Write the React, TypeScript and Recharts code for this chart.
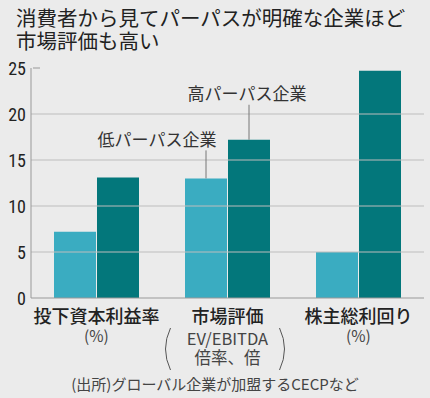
import React from 'react';
import { BarChart, Bar, XAxis, YAxis, ReferenceLine, LabelList } from 'recharts';

const categories = ['投下資本利益率', '市場評価', '株主総利回り'];
const unitLines = [['(%)'], ['EV/EBITDA', '倍率、倍'], ['(%)']];
const lowPurpose = [7.2, 13.0, 5.0];
const highPurpose = [13.1, 17.2, 24.7];
const seriesNames = ['低パーパス企業', '高パーパス企業'];
const yTicks = [0, 5, 10, 15, 20, 25];
const gridValues = [5, 10, 15, 20];
const titleLines = ['消費者から見てパーパスが明確な企業ほど', '市場評価も高い'];
const sourceText = '(出所)グローバル企業が加盟するCECPなど';

const data = categories.map((c, i) => ({ name: c, low: lowPurpose[i], high: highPurpose[i], idx: i }));

const FONT = '"Noto Sans CJK JP", "Noto Sans", sans-serif';
const NARROW = '"Liberation Sans Narrow", "Roboto Condensed", "Liberation Sans", sans-serif';
const LIGHT = '#3aacc1';
const DARK = '#03777b';

const YTick = (props: any) => {
  const { x, y, payload } = props;
  return (
    <g>
      <text x={x} y={y} textAnchor="end" dominantBaseline="central" fontSize={18} fontFamily={NARROW} fill="#222">
        {payload.value}
      </text>
      {payload.value === 25 ? <line x1={x + 7} x2={x + 14} y1={y} y2={y} stroke="#999" strokeWidth={1} /> : null}
    </g>
  );
};

const XTick = (props: any) => {
  const { x, payload, index } = props;
  const y = 298;
  const units = unitLines[index] || [];
  const boxed = units.length > 1;
  return (
    <g>
      <text x={x} y={y + 17} textAnchor="middle" dominantBaseline="central" fontSize={18} fontWeight={500} fontFamily={FONT} fill="#222">
        {payload.value}
      </text>
      {units.map((u, k) => (
        <text key={k} x={x} y={y + (boxed ? 40 + k * 19 : 37)} textAnchor="middle" dominantBaseline="central"
          fontSize={boxed ? 16.5 : 15.5} fontFamily={FONT} fill="#444">
          {u}
        </text>
      ))}
      {boxed ? (
        <g fill="none" stroke="#555" strokeWidth={1}>
          <path d={`M ${x - 57} ${y + 30} Q ${x - 67} ${y + 51} ${x - 57} ${y + 72}`} />
          <path d={`M ${x + 52} ${y + 30} Q ${x + 62} ${y + 51} ${x + 52} ${y + 72}`} />
        </g>
      ) : null}
    </g>
  );
};

const makeAnno = (label: string, lineLen: number, dx: number) => (props: any) => {
  const { x, y, width, index } = props;
  if (index !== 1) return null;
  const cx = x + width / 2;
  return (
    <g>
      <line x1={cx} x2={cx} y1={y - lineLen} y2={y} stroke="#777" strokeWidth={1} />
      <text x={cx + dx} y={y - lineLen - 12} textAnchor="middle" dominantBaseline="central" fontSize={17} fontFamily={FONT} fill="#333">
        {label}
      </text>
    </g>
  );
};

export default function App() {
  return (
    <div style={{ position: 'absolute', left: 0, top: 0, width: 430, height: 398, background: '#ebebeb', overflow: 'hidden' }}>
      {titleLines.map((t, i) => (
        <div key={i} style={{ position: 'absolute', left: 16, top: 6 + i * 23, fontFamily: FONT, fontSize: 20.5, lineHeight: '22px', color: '#222', whiteSpace: 'nowrap' }}>
          {t}
        </div>
      ))}
      <BarChart width={430} height={398} data={data} margin={{ top: 68, right: 6, bottom: 0, left: 0 }} barCategoryGap={23} barGap={1}>
        {gridValues.map((v) => (
          <ReferenceLine key={v} y={v} stroke="#bdbdbd" strokeWidth={1} />
        ))}
        <XAxis dataKey="name" height={100} axisLine={{ stroke: '#999' }} tickLine={false} tick={<XTick />} interval={0} />
        <YAxis width={31} domain={[0, 25]} ticks={yTicks} axisLine={{ stroke: '#999' }} tickLine={false} tickSize={0} tickMargin={5} tick={<YTick />} />
        <Bar dataKey="low" fill={LIGHT} isAnimationActive={false}>
          <LabelList dataKey="low" content={makeAnno(seriesNames[0], 28, -49)} />
        </Bar>
        <Bar dataKey="high" fill={DARK} isAnimationActive={false}>
          <LabelList dataKey="high" content={makeAnno(seriesNames[1], 35, -2)} />
        </Bar>
      </BarChart>
      <div style={{ position: 'absolute', left: 0, width: 430, top: 373, textAlign: 'center', fontFamily: FONT, fontSize: 15, color: '#444', whiteSpace: 'nowrap' }}>
        {sourceText}
      </div>
    </div>
  );
}
